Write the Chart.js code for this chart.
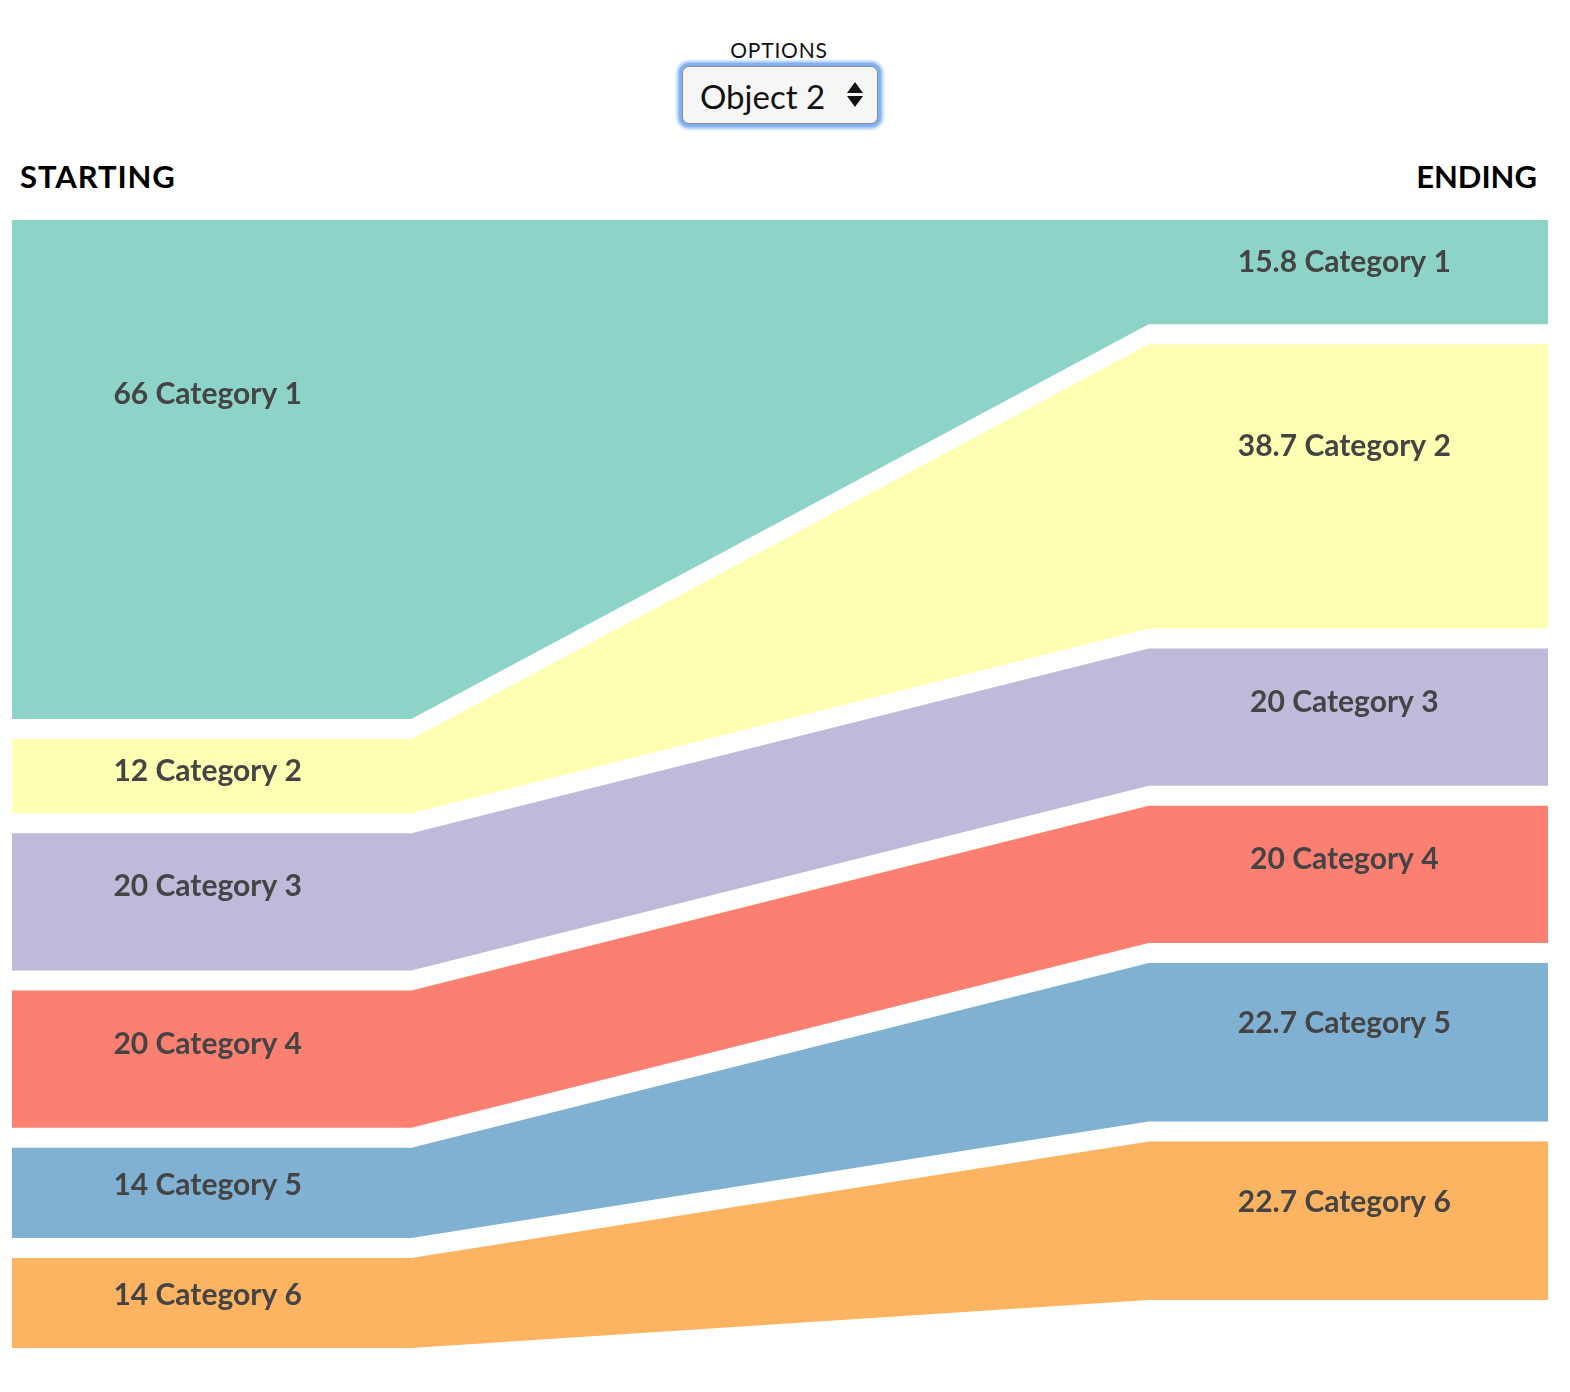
<!DOCTYPE html>
<html>
<head>
<meta charset="utf-8">
<script src="https://cdn.jsdelivr.net/npm/chart.js@4/dist/chart.umd.min.js"></script>
<style>
  html, body { margin: 0; padding: 0; background: #fff; }
  body { width: 1570px; height: 1392px; position: relative; overflow: hidden; font-family: Lato, "Open Sans", sans-serif; }
  #optLabel { position: absolute; top: 37px; left: 0; width: 1558px; text-align: center; font-size: 21px; color: #111; letter-spacing: 0.8px; }
  #select { position: absolute; left: 682px; top: 66px; width: 196px; height: 58px; box-sizing: border-box;
            border: 1.5px solid #8a8a8a; border-radius: 7px; background: #f6f6f6;
            box-shadow: 0 0 0 3px #7fb2f2, 0 0 3px 5px rgba(115,168,240,0.7); }
  #selText { position: absolute; left: 17px; top: 9px; font-size: 33px; color: #111; }
  #arrows { position: absolute; left: 164px; top: 15px; width: 16px; }
  .tri-up { width: 0; height: 0; border-left: 8px solid transparent; border-right: 8px solid transparent; border-bottom: 11px solid #111; margin-bottom: 3px; }
  .tri-dn { width: 0; height: 0; border-left: 8px solid transparent; border-right: 8px solid transparent; border-top: 11px solid #111; }
  .hdr { position: absolute; top: 157px; font-size: 31px; font-weight: bold; color: #000; }
  #hStart { left: 20px; letter-spacing: 0.9px; }
  #hEnd { right: 33px; }
  #chartWrap { position: absolute; left: 12px; top: 220px; width: 1536px; height: 1148px; }
</style>
</head>
<body>
<div id="optLabel">OPTIONS</div>
<div id="select"><span id="selText">Object 2</span><div id="arrows"><div class="tri-up"></div><div class="tri-dn"></div></div></div>
<div class="hdr" id="hStart">STARTING</div>
<div class="hdr" id="hEnd">ENDING</div>
<div id="chartWrap"><canvas id="c" width="1536" height="1148"></canvas></div>
<script>
// ---- data ----
const categories = ["Category 1", "Category 2", "Category 3", "Category 4", "Category 5", "Category 6"];
const startingValues = [66, 12, 20, 20, 14, 14];
const endingValues = [15.8, 38.7, 20, 20, 22.7, 22.7];
const colors = ["#8dd3c7", "#ffffb3", "#bebada", "#fb8072", "#80b1d3", "#fdb462"];
const xStops = [0, 26, 74, 100]; // left column start/end, right column start/end

// ---- layout constants ----
const GAP = 2.545;        // gap between bands, value units
const LABEL_SHIFT = -4;   // px horizontal nudge of labels
const yMax = Math.max(startingValues.reduce((a, b) => a + b, 0), endingValues.reduce((a, b) => a + b, 0));

function cumStarts(arr) { const out = []; let s = 0; for (const v of arr) { out.push(s); s += v; } return out; }
const startTops = cumStarts(startingValues);
const endTops = cumStarts(endingValues);

const datasets = [];
categories.forEach((cat, i) => {
  const lt = startTops[i], lb = startTops[i] + startingValues[i] - GAP;
  const rt = endTops[i], rb = endTops[i] + endingValues[i] - GAP;
  datasets.push({
    label: cat + " top",
    data: [{x: xStops[0], y: lt}, {x: xStops[1], y: lt}, {x: xStops[2], y: rt}, {x: xStops[3], y: rt}],
    borderWidth: 0, pointRadius: 0, fill: false, borderColor: colors[i], tension: 0
  });
  datasets.push({
    label: cat + " bottom",
    data: [{x: xStops[0], y: lb}, {x: xStops[1], y: lb}, {x: xStops[2], y: rb}, {x: xStops[3], y: rb}],
    borderWidth: 0, pointRadius: 0, fill: '-1', backgroundColor: colors[i], borderColor: colors[i], tension: 0
  });
});

const labelPlugin = {
  id: 'bandLabels',
  afterDatasetsDraw(chart) {
    const ctx = chart.ctx, xs = chart.scales.x, ys = chart.scales.y;
    ctx.save();
    ctx.fillStyle = '#444';
    ctx.font = 'bold 30px Lato, "Open Sans", sans-serif';
    ctx.textAlign = 'center';
    ctx.textBaseline = 'middle';
    const lx = (xs.getPixelForValue(xStops[0]) + xs.getPixelForValue(xStops[1])) / 2 + LABEL_SHIFT;
    const rx = (xs.getPixelForValue(xStops[2]) + xs.getPixelForValue(xStops[3])) / 2 + LABEL_SHIFT;
    categories.forEach((cat, i) => {
      ctx.fillText(startingValues[i] + ' ' + cat, lx, ys.getPixelForValue(startTops[i] + startingValues[i] / 3) + 1);
      ctx.fillText(endingValues[i] + ' ' + cat, rx, ys.getPixelForValue(endTops[i] + endingValues[i] / 3) + 1);
    });
    ctx.restore();
  }
};

new Chart(document.getElementById('c'), {
  type: 'line',
  data: { datasets },
  options: {
    responsive: false,
    animation: false,
    events: [],
    layout: { padding: 0 },
    plugins: { legend: { display: false }, tooltip: { enabled: false }, title: { display: false } },
    scales: {
      x: { type: 'linear', min: 0, max: 100, display: false },
      y: { type: 'linear', min: 0, max: yMax, reverse: true, display: false }
    }
  },
  plugins: [labelPlugin]
});
</script>
</body>
</html>
